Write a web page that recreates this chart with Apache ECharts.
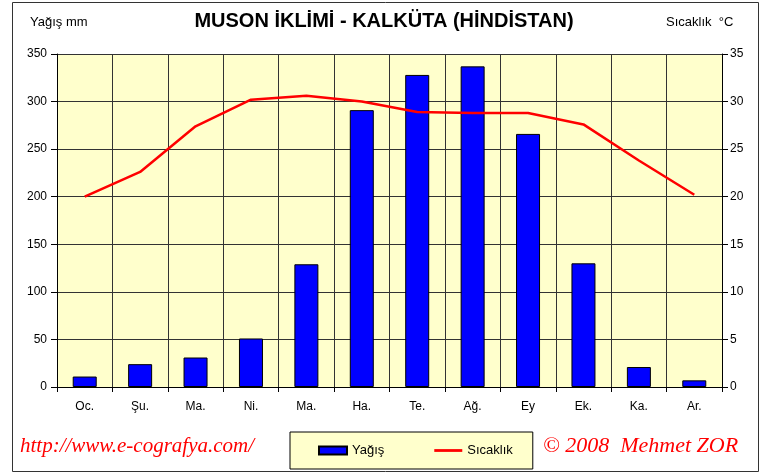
<!DOCTYPE html>
<html>
<head>
<meta charset="utf-8">
<script src="https://cdn.jsdelivr.net/npm/echarts@6/dist/echarts.min.js"></script>
<style>
  html, body { margin: 0; padding: 0; background: #fff; }
  #chart { width: 768px; height: 474px; }
</style>
</head>
<body>
<div id="chart"></div>
<script>
const months = ['Oc.', 'Şu.', 'Ma.', 'Ni.', 'Ma.', 'Ha.', 'Te.', 'Ağ.', 'Ey', 'Ek.', 'Ka.', 'Ar.']
const rainfall = [11, 24, 31, 51, 129, 291, 328, 337, 266, 130, 21, 7]
const temperature = [20.0, 22.6, 27.4, 30.2, 30.6, 30.0, 28.9, 28.8, 28.8, 27.6, 23.8, 20.2]

const chart = echarts.init(document.getElementById('chart'))

const axisFont = {
  color: '#000',
  fontSize: 12,
  fontFamily: 'Liberation Sans'
}

chart.setOption({
  animation: false,
  backgroundColor: '#fff',
  grid: {
    left: 57,
    right: 46,
    top: 54,
    bottom: 87,
    show: true,
    backgroundColor: '#FFFFCC',
    borderWidth: 0
  },
  legend: {
    left: 290,
    top: 432,
    padding: [12, 20, 12, 28],
    itemGap: 50,
    itemWidth: 28,
    itemHeight: 8,
    backgroundColor: '#FFFFCC',
    borderColor: '#000',
    borderWidth: 1,
    textStyle: { color: '#000', fontSize: 13, fontFamily: 'Liberation Sans' },
    data: [
      { name: 'Yağış', icon: 'rect' },
      { name: 'Sıcaklık', icon: 'path://M0,0H30V3H0Z' }
    ]
  },
  xAxis: {
    type: 'category',
    data: months,
    boundaryGap: true,
    axisLine: { lineStyle: { color: '#000', width: 1 } },
    axisTick: { show: true, length: 5, lineStyle: { color: '#000' } },
    axisLabel: { ...axisFont, margin: 14 },
    splitLine: { show: true, lineStyle: { color: '#333', width: 1 } }
  },
  yAxis: [
    {
      type: 'value',
      min: 0,
      max: 350,
      interval: 50,
      axisLine: { show: true, lineStyle: { color: '#000' } },
      axisTick: { show: true, length: 6, lineStyle: { color: '#000' } },
      axisLabel: { ...axisFont, margin: 10 },
      splitLine: { show: true, lineStyle: { color: '#333', width: 1 } }
    },
    {
      type: 'value',
      min: 0,
      max: 35,
      interval: 5,
      axisLine: { show: true, lineStyle: { color: '#000' } },
      axisTick: { show: true, length: 6, lineStyle: { color: '#000' } },
      axisLabel: { ...axisFont, margin: 8 },
      splitLine: { show: false }
    }
  ],
  series: [
    {
      name: 'Yağış',
      type: 'bar',
      yAxisIndex: 0,
      barWidth: 24,
      data: rainfall,
      itemStyle: { color: '#0000FF', borderColor: '#000', borderWidth: 1 }
    },
    {
      name: 'Sıcaklık',
      type: 'line',
      yAxisIndex: 1,
      data: temperature,
      symbol: 'none',
      lineStyle: { color: '#FF0000', width: 2.5 },
      itemStyle: { color: '#FF0000' }
    }
  ],
  graphic: [
    {
      type: 'rect',
      shape: { x: 12.5, y: 2.5, width: 746, height: 469 },
      style: { fill: 'none', stroke: '#333', lineWidth: 1 },
      z: -1
    },
    {
      type: 'text',
      left: 'center',
      top: 11,
      style: {
        text: 'MUSON İKLİMİ - KALKÜTA (HİNDİSTAN)',
        fill: '#000',
        font: 'bold 20px "Liberation Sans Narrow", "Liberation Sans", sans-serif'
      }
    },
    {
      type: 'text',
      left: 30,
      top: 16,
      style: { text: 'Yağış mm', fill: '#000', font: '13px "Liberation Sans Narrow", "Liberation Sans", sans-serif' }
    },
    {
      type: 'text',
      left: 666,
      top: 16,
      style: { text: 'Sıcaklık  °C', fill: '#000', font: '13px "Liberation Sans Narrow", "Liberation Sans", sans-serif' }
    },
    {
      type: 'text',
      left: 20,
      top: 436,
      style: { text: 'http://www.e-cografya.com/', fill: '#FF0000', font: 'italic 21px "Liberation Serif", serif' }
    },
    {
      type: 'text',
      left: 543,
      top: 435,
      style: { text: '© 2008  Mehmet ZOR', fill: '#FF0000', font: 'italic 22px "Liberation Serif", serif' }
    }
  ]
})
</script>
</body>
</html>
